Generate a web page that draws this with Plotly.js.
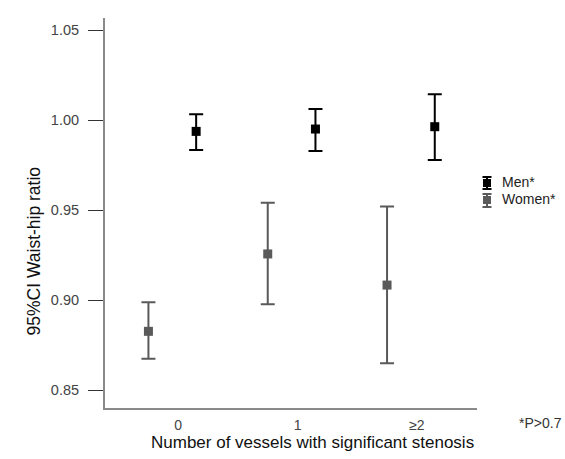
<!DOCTYPE html>
<html>
<head>
<meta charset="utf-8">
<script src="https://cdn.plot.ly/plotly-3.0.1.min.js"></script>
<style>
  html, body { margin: 0; padding: 0; background: #fff; }
  #chart { width: 565px; height: 459px; }
</style>
</head>
<body>
<div id="chart"></div>
<script>
// ---- data ----
const categories = ['0', '1', '\u22652'];
const seriesNames = ['Men*', 'Women*'];
const menMean   = [0.9937, 0.9950, 0.9963];
const menUpper  = [1.0032, 1.0061, 1.0144];
const menLower  = [0.9833, 0.9828, 0.9778];
const womenMean  = [0.8826, 0.9256, 0.9083];
const womenUpper = [0.8987, 0.9541, 0.9520];
const womenLower = [0.8674, 0.8976, 0.8648];
const yTicks = [0.85, 0.90, 0.95, 1.00, 1.05];

// ---- layout helpers ----
const W = 565, H = 459;
const M = { l: 105, r: 88, t: 18, b: 51 };
const PW = W - M.l - M.r, PH = H - M.t - M.b;
const px = x => (x - M.l) / PW;          // pixel -> paper x
const py = y => (H - M.b - y) / PH;      // pixel -> paper y

const dodge = 0.2;
const idx = categories.map((c, i) => i);
const xWomen = idx.map(i => i - dodge);
const xMen = idx.map(i => i + dodge);
const FONT = 'Liberation Sans, Arial, sans-serif';
const MEN_COLOR = '#000000', WOMEN_COLOR = '#5a5a5a';

function trace(name, xs, mean, up, lo, color) {
  return {
    type: 'scatter', mode: 'markers', name: name,
    x: xs, y: mean,
    marker: { symbol: 'square', size: 9, color: color },
    error_y: {
      type: 'data', symmetric: false,
      array: mean.map((m, i) => up[i] - m),
      arrayminus: mean.map((m, i) => m - lo[i]),
      color: color, thickness: 2, width: 7
    },
    cliponaxis: false,
    showlegend: false
  };
}

const data = [
  trace(seriesNames[0], xMen, menMean, menUpper, menLower, MEN_COLOR),
  trace(seriesNames[1], xWomen, womenMean, womenUpper, womenLower, WOMEN_COLOR)
];

// custom legend icons (error-bar glyph with square marker)
function legendIcon(cx, top, bottom, mid, color) {
  const line = { type: 'line', xref: 'paper', yref: 'paper', line: { color: color, width: 2 } };
  return [
    Object.assign({}, line, { x0: px(cx), x1: px(cx), y0: py(top), y1: py(bottom) }),
    Object.assign({}, line, { x0: px(cx - 4.5), x1: px(cx + 4.5), y0: py(top), y1: py(top) }),
    Object.assign({}, line, { x0: px(cx - 4.5), x1: px(cx + 4.5), y0: py(bottom), y1: py(bottom) }),
    { type: 'rect', xref: 'paper', yref: 'paper', line: { width: 0 }, fillcolor: color,
      x0: px(cx - 4), x1: px(cx + 4), y0: py(mid - 4), y1: py(mid + 4) }
  ];
}
const shapes = [].concat(
  legendIcon(487, 177, 189, 183, MEN_COLOR),
  legendIcon(487, 194, 207, 200, WOMEN_COLOR)
);

const layout = {
  width: W, height: H,
  margin: M,
  paper_bgcolor: '#ffffff', plot_bgcolor: '#ffffff',
  font: { family: FONT, color: '#333' },
  showlegend: false,
  xaxis: {
    range: [-0.564, 2.554],
    tickvals: idx.map(i => i + 0.05),
    ticktext: categories,
    ticks: 'outside', ticklen: 3, tickcolor: 'rgba(0,0,0,0)',
    showgrid: false, zeroline: false,
    showline: true, linecolor: '#8a8a8a', linewidth: 2,
    tickfont: { family: FONT, size: 14, color: '#444' },
    fixedrange: true
  },
  yaxis: {
    range: [0.84, 1.0567],
    tickvals: yTicks,
    ticktext: yTicks.map(v => v.toFixed(2)),
    ticks: 'outside', ticklen: 15, tickwidth: 1, tickcolor: '#333',
    ticklabelstandoff: 6,
    showgrid: false, zeroline: false,
    showline: true, linecolor: '#8a8a8a', linewidth: 2,
    tickfont: { family: FONT, size: 14.5, color: '#444' },
    fixedrange: true
  },
  shapes: shapes,
  annotations: [
    { text: '95%CI Waist-hip ratio', xref: 'paper', yref: 'paper',
      x: px(33), y: py(251.5), textangle: -90, showarrow: false,
      xanchor: 'center', yanchor: 'middle',
      font: { family: FONT, size: 17.5, color: '#111' } },
    { text: 'Number of vessels with significant stenosis', xref: 'paper', yref: 'paper',
      x: px(312), y: py(443), showarrow: false,
      xanchor: 'center', yanchor: 'middle',
      font: { family: FONT, size: 17, color: '#111' } },
    { text: '*P>0.7', xref: 'paper', yref: 'paper',
      x: px(540), y: py(423), showarrow: false,
      xanchor: 'center', yanchor: 'middle',
      font: { family: FONT, size: 14, color: '#333' } },
    { text: seriesNames[0], xref: 'paper', yref: 'paper',
      x: px(500), y: py(182), showarrow: false,
      xanchor: 'left', yanchor: 'middle',
      font: { family: FONT, size: 14, color: '#222' } },
    { text: seriesNames[1], xref: 'paper', yref: 'paper',
      x: px(500), y: py(199), showarrow: false,
      xanchor: 'left', yanchor: 'middle',
      font: { family: FONT, size: 14, color: '#222' } }
  ]
};

Plotly.newPlot('chart', data, layout, { displayModeBar: false, staticPlot: true });
</script>
</body>
</html>
